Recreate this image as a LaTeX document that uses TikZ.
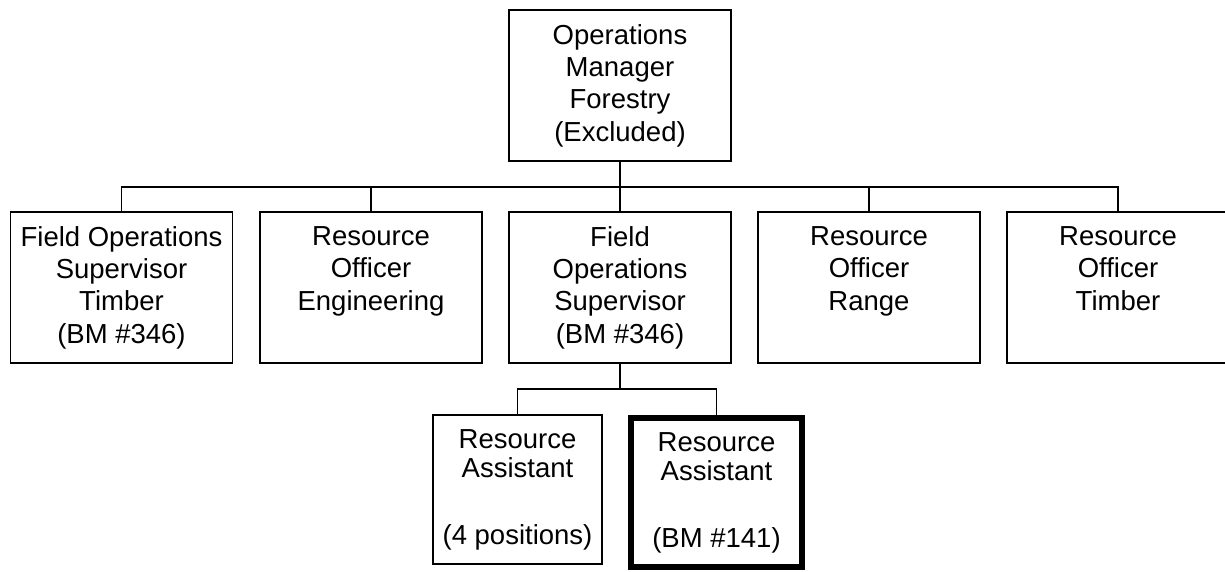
\documentclass[tikz,border=0pt]{standalone}
\usepackage{fontspec}
\setmainfont{Liberation Sans}

\begin{document}
\begin{tikzpicture}[x=1pt,y=-1pt]
    \tikzstyle{post}=[draw,rectangle,line width=1.5pt,minimum width=222pt,minimum height=151pt,inner sep=0pt,align=center,font=\fontsize{27.5}{32.3}\selectfont]
    \tikzstyle{assistant}=[post,minimum width=169pt,minimum height=149pt,font=\fontsize{27.5}{29}\selectfont]
    \tikzstyle{link}=[line width=1.5pt]

    \useasboundingbox (0,0) rectangle (1225,571);

    % Draw the manager
    \node[post] (M) at (620,85.5) {Operations\\Manager\\Forestry\\(Excluded)};

    % Draw the supervisors and officers
    \node[post] (S-1) at (121.5,287.5) {Field Operations\\Supervisor\\Timber\\(BM \#346)};
    \node[post] (S-2) at (371,287.5) {Resource\\Officer\\Engineering\\\vphantom{()}};
    \node[post] (S-3) at (620,287.5) {Field\\Operations\\Supervisor\\(BM \#346)};
    \node[post] (S-4) at (869,287.5) {Resource\\Officer\\Range\\\vphantom{()}};
    \node[post] (S-5) at (1118,287.5) {Resource\\Officer\\Timber\\\vphantom{()}};

    % Draw the assistants
    \node[assistant] (A-1) at (517.5,489.5) {Resource\\Assistant\\[38pt](4 positions)};
    \node[assistant,minimum width=171pt,line width=6pt] (A-2) at (716.5,492.5) {Resource\\Assistant\\[38pt](BM \#141)};

    % Connect the manager with every supervisor and officer
    \coordinate (bus) at (620,187);
    \foreach \dest in {1,...,5}
        \draw[link] (M.south) -- (M.south |- bus) -| (S-\dest.north);

    % Connect the supervisor with the assistants
    \coordinate (sub) at (620,389);
    \foreach \dest in {1,2}
        \draw[link] (S-3.south) -- (S-3.south |- sub) -| (A-\dest.north);
\end{tikzpicture}
\end{document}
